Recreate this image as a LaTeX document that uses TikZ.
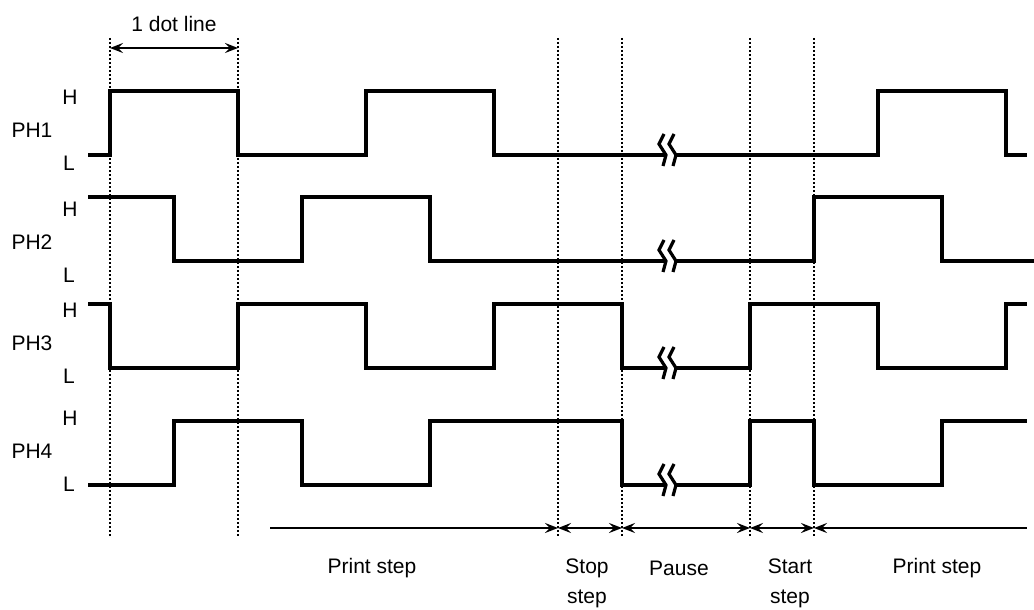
\documentclass[tikz,border=0pt]{standalone}
\usepackage{fontspec}
\setmainfont{Liberation Sans}
\usetikzlibrary{arrows.meta}

\begin{document}
\begin{tikzpicture}[%
    x=0.5pt, y=-0.5pt,          % one unit is one pixel of the sketch
    >={Stealth[length=6.5pt,width=5pt,inset=2.5pt]},
    font=\fontsize{10.5}{12}\selectfont,
    ]
% -------------------------------------------------
% Styles for signals, guides and dimension arrows
\tikzset{
  sig/.style={draw, line width=1.6pt, line join=miter},
  guide/.style={draw, line width=1.2pt, dash pattern=on 1pt off 1pt},
  dim/.style={draw, line width=1pt},
  lbl/.style={inner sep=0pt, anchor=center},
  brk/.pic={
    \draw[sig] (-6,-21) -- (-11,-11) -- (-4,0) -- (-7,11);
    \draw[sig] (4,-21) -- (-1,-11) -- (6,0) -- (3,11);
  }
}
\useasboundingbox (0,0) rectangle (1034,610);
% -------------------------------------------------
% Dotted guide lines
\foreach \x/\n in {110/a,238/b,558/c,622/d,750/e,814/f} {
  \coordinate (t\n) at (\x,38);
  \coordinate (b\n) at (\x,538);
  \coordinate (m\n) at (\x,528);
  \draw[guide] (t\n) -- (b\n);
}

% Channel labels
\foreach \n/\y in {1/130,2/242,3/343,4/451} {
  \node[lbl] (ph\n) at (32,\y) {PH\n};
  \node[lbl] (h\n) at (70,\y-33) {H};
  \node[lbl] (l\n) at (69,\y+33) {L};
}

% PH1
\draw[sig] (88,155) -- (110,155) -- (110,91) -- (238,91) -- (238,155)
  -- (366,155) -- (366,91) -- (494,91) -- (494,155) -- (666,155);
\pic at (670,155) {brk};
\draw[sig] (676,155) -- (878,155) -- (878,91) -- (1006,91) -- (1006,155)
  -- (1027,155);
% PH2
\draw[sig] (88,197) -- (174,197) -- (174,261) -- (302,261) -- (302,197)
  -- (430,197) -- (430,261) -- (666,261);
\pic at (670,261) {brk};
\draw[sig] (676,261) -- (814,261) -- (814,197) -- (942,197) -- (942,261)
  -- (1034,261);
% PH3
\draw[sig] (88,304) -- (110,304) -- (110,368) -- (238,368) -- (238,304)
  -- (366,304) -- (366,368) -- (494,368) -- (494,304) -- (622,304)
  -- (622,368) -- (666,368);
\pic at (670,368) {brk};
\draw[sig] (676,368) -- (750,368) -- (750,304) -- (878,304) -- (878,368)
  -- (1006,368) -- (1006,304) -- (1027,304);
% PH4
\draw[sig] (88,485) -- (174,485) -- (174,421) -- (302,421) -- (302,485)
  -- (430,485) -- (430,421) -- (622,421) -- (622,485) -- (666,485);
\pic at (670,485) {brk};
\draw[sig] (676,485) -- (750,485) -- (750,421) -- (814,421) -- (814,485)
  -- (942,485) -- (942,421) -- (1027,421);

% -------------------------------------------------
% Dimension arrows
\coordinate (ua) at (110,48);
\coordinate (ub) at (238,48);
\draw[dim, <->] (ua) -- (ub);
\node[lbl] (dot) at (174,24) {1 dot line};

\coordinate (ps) at (270,528);
\coordinate (pe) at (1027,528);
\draw[dim, ->] (ps) -- (mc);
\draw[dim, <->] (mc) -- (md);
\draw[dim, <->] (md) -- (me);
\draw[dim, <->] (me) -- (mf);
\draw[dim, <-] (mf) -- (pe);

\node[lbl] (print1) at (372,568) {Print step};
\node[lbl, align=center] (stop) at (587,583) {Stop\\[3pt]step};
\node[lbl] (pause) at (679,568) {Pause};
\node[lbl, align=center] (start) at (790,583) {Start\\[3pt]step};
\node[lbl] (print2) at (937,568) {Print step};
% -------------------------------------------------
\end{tikzpicture}
\end{document}
